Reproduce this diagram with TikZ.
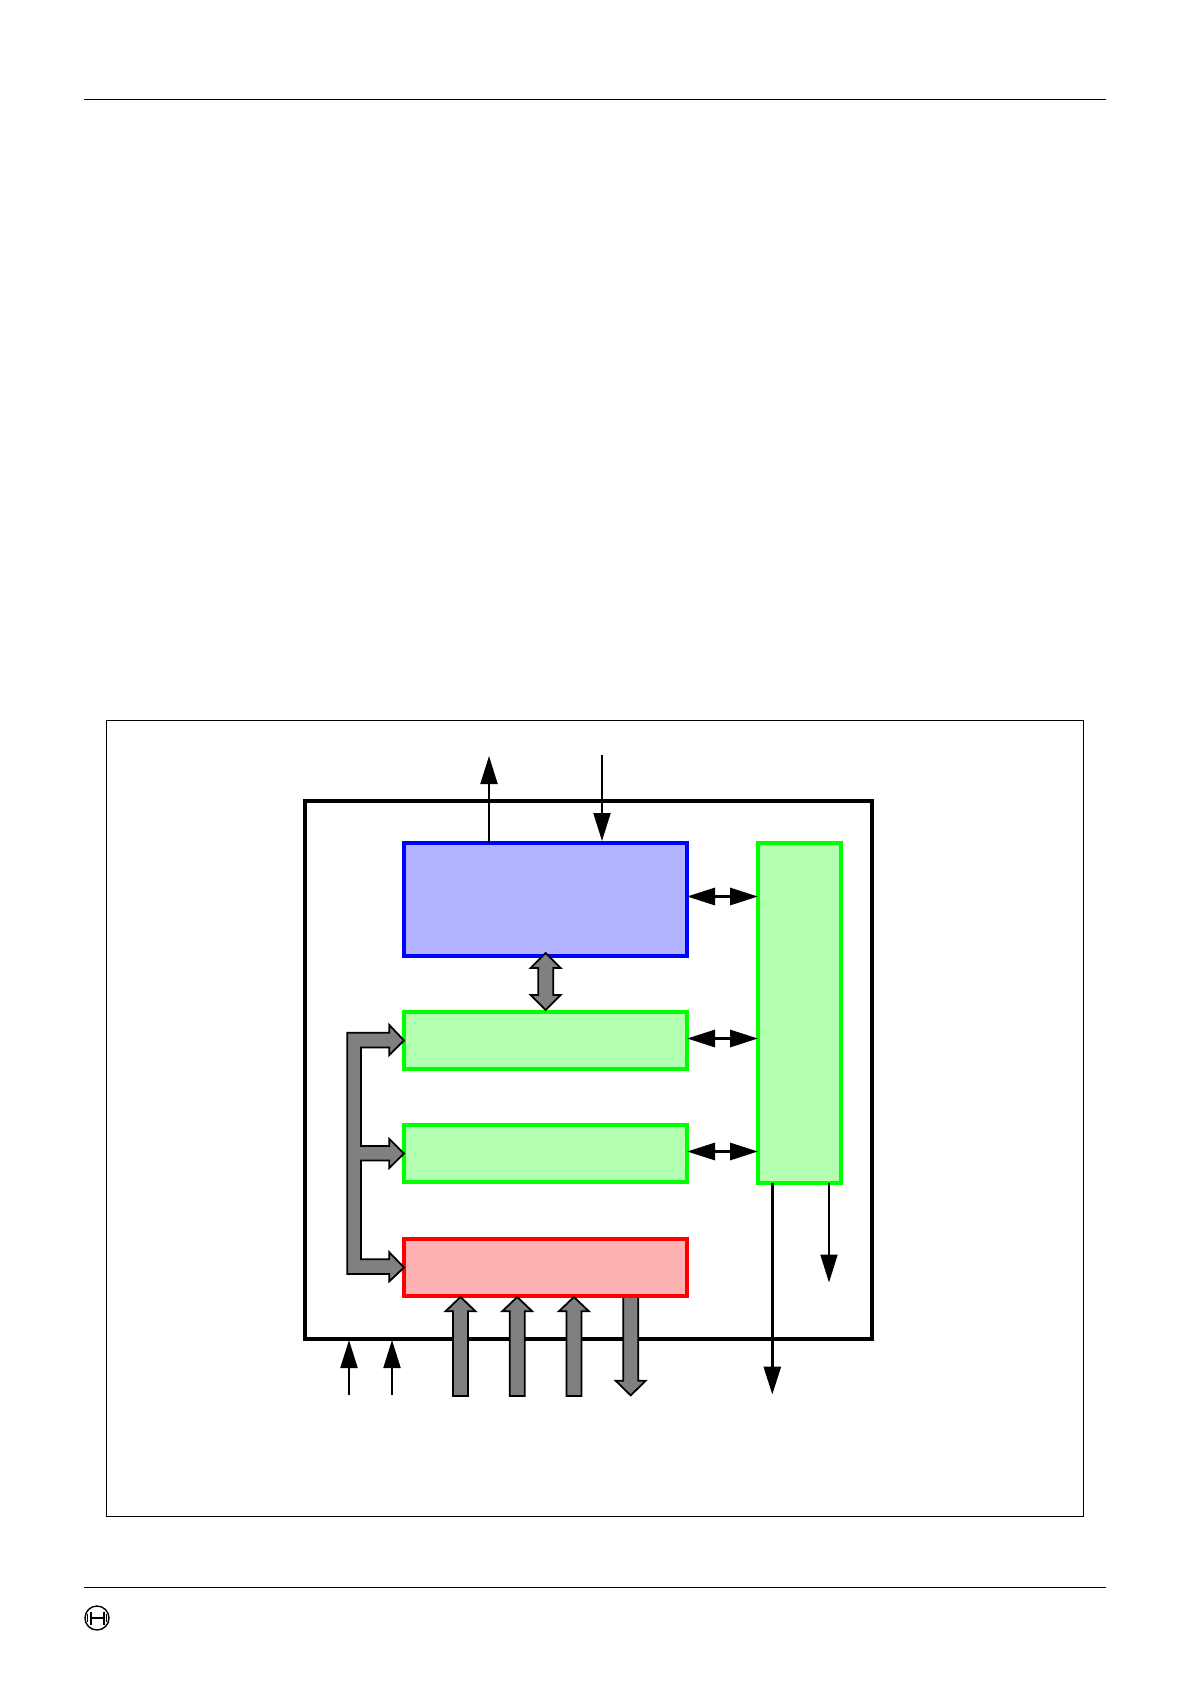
\documentclass[tikz,border=0pt]{standalone}
\usetikzlibrary{arrows.meta,calc}
\definecolor{fblue}{HTML}{B2B2FF}
\definecolor{fgreen}{HTML}{B2FFB2}
\definecolor{fred}{HTML}{FFB2B2}
\definecolor{bus}{HTML}{808080}
\tikzset{
  box/.style={rectangle,draw,line width=3.5pt,inner sep=0pt,outer sep=0pt,anchor=north west},
  thinsig/.style={line width=2pt,-{Triangle[length=28pt,width=17pt,sep=0pt]}},
  thicksig/.style={line width=3pt,-{Triangle[length=28pt,width=17pt,sep=0pt]}},
  bothsig/.style={line width=3pt,{Triangle[length=28pt,width=17pt]}-{Triangle[length=28pt,width=17pt]}},
  busarrow/.style={draw=black,fill=bus,line width=1.8pt,miter limit=10},
}
\begin{document}
\begin{tikzpicture}[x=1pt,y=-1pt]
\useasboundingbox (0,0) rectangle (1190,1684);
\fill[white] (0,0) rectangle (1190,1684);
% page furniture
\coordinate (headL) at (84,99.5); \coordinate (headR) at (1106,99.5);
\coordinate (footL) at (84,1587); \coordinate (footR) at (1106,1587);
\draw[line width=1pt] (headL) -- (headR);
\draw[line width=1pt] (footL) -- (footR);
\node[rectangle,draw=black,line width=1pt,inner sep=0pt,outer sep=0pt,anchor=north west,minimum width=977.5pt,minimum height=796pt] (frame) at (106.2,720.5) {};
% logo
\coordinate (logo) at (97,1618);
\draw[line width=1.4pt] (logo) circle (12);
\draw[line width=2pt] ($(logo)+(-6.5,-6.5)$) -- ($(logo)+(-6.5,6.5)$);
\draw[line width=2pt] ($(logo)+(6.5,-6.5)$) -- ($(logo)+(6.5,6.5)$);
\draw[line width=1.4pt] ($(logo)+(-9.5,-4)$) -- ($(logo)+(-9.5,4)$);
\draw[line width=1.4pt] ($(logo)+(9.5,-4)$) -- ($(logo)+(9.5,4)$);
\draw[line width=2.4pt] ($(logo)+(-6.5,0)$) -- ($(logo)+(6.5,0)$);
% outer block
\node[box,line width=3.6pt,minimum width=567pt,minimum height=538pt] (outer) at (305,801) {};
% output bus under the red box
\draw[busarrow] (623.2,1285) -- (623.2,1380.7) -- ++(-7.5,0) -- (630.7,1395.4) -- (645.7,1380.7) -- ++(-7.5,0) -- (638.2,1285) -- cycle;
% boxes
\node[box,draw=blue,fill=fblue,minimum width=283pt,minimum height=113pt] (cpu) at (404,843) {};
\node[box,draw=green,fill=fgreen,minimum width=283pt,minimum height=57pt] (g1) at (404,1012) {};
\node[box,draw=green,fill=fgreen,minimum width=283pt,minimum height=57pt] (g2) at (404,1125) {};
\node[box,draw=red,fill=fred,minimum width=283pt,minimum height=57pt] (rd) at (404,1239) {};
\node[box,draw=green,fill=fgreen,minimum width=83pt,minimum height=340pt] (side) at (758,843) {};
% thin arrows on top
\coordinate (topout) at (489,756); \coordinate (topin) at (602,755);
\draw[thinsig] (cpu.north -| topout) -- (topout);
\draw[thinsig] (topin) -- ($(cpu.north -| topin)+(0,-2)$);
% bidirectional
\coordinate (b1) at (723,896.5); \coordinate (b2) at (723,1038.5); \coordinate (b3) at (723,1151.5);
\draw[bothsig] ($(cpu.east |- b1)$) -- (side.west |- b1);
\draw[bothsig] ($(g1.east |- b2)$) -- (side.west |- b2);
\draw[bothsig] ($(g2.east |- b3)$) -- (side.west |- b3);
% side outputs
\coordinate (o1) at (772.3,1394.5); \coordinate (o2) at (829,1282.5);
\draw[thicksig] (side.south -| o1) -- (o1);
\draw[thinsig] (side.south -| o2) -- (o2);
% bottom left inputs
\coordinate (i1) at (349,1395); \coordinate (i2) at (392,1395);
\draw[thinsig] (i1) -- ($(outer.south -| i1)+(0,1)$);
\draw[thinsig] (i2) -- ($(outer.south -| i2)+(0,1)$);
% cpu <-> g1 bus
\draw[busarrow] (545.7,953) -- ++(15,15) -- ++(-7.5,0) -- ++(0,27) -- ++(7.5,0) -- (545.7,1010) -- ++(-15,-15) -- ++(7.5,0) -- ++(0,-27) -- ++(-7.5,0) -- cycle;
% left bus
\draw[busarrow] (g1.west) -- (389.3,1025) -- (389.3,1032.7) -- (347.3,1032.7) -- (347.3,1274) -- (389.3,1274) -- (389.3,1281.3) -- (rd.west) -- (389.3,1252.3) -- (389.3,1259.3) -- (361,1259.3) -- (361,1160.5) -- (389.3,1160.5) -- (389.3,1168) -- (g2.west) -- (389.3,1139) -- (389.3,1146) -- (361,1146) -- (361,1047.5) -- (389.3,1047.5) -- (389.3,1055) -- cycle;
% bottom up arrows
\foreach \nm/\cx in {u1/460.5,u2/517.2,u3/573.9}{
  \coordinate (\nm) at (\cx,1297);
  \draw[busarrow] (\nm) -- ++(15,14.3) -- ++(-7.5,0) -- ++(0,84.6) -- ++(-15,0) -- ++(0,-84.6) -- ++(-7.5,0) -- cycle;
}
\end{tikzpicture}
\end{document}
